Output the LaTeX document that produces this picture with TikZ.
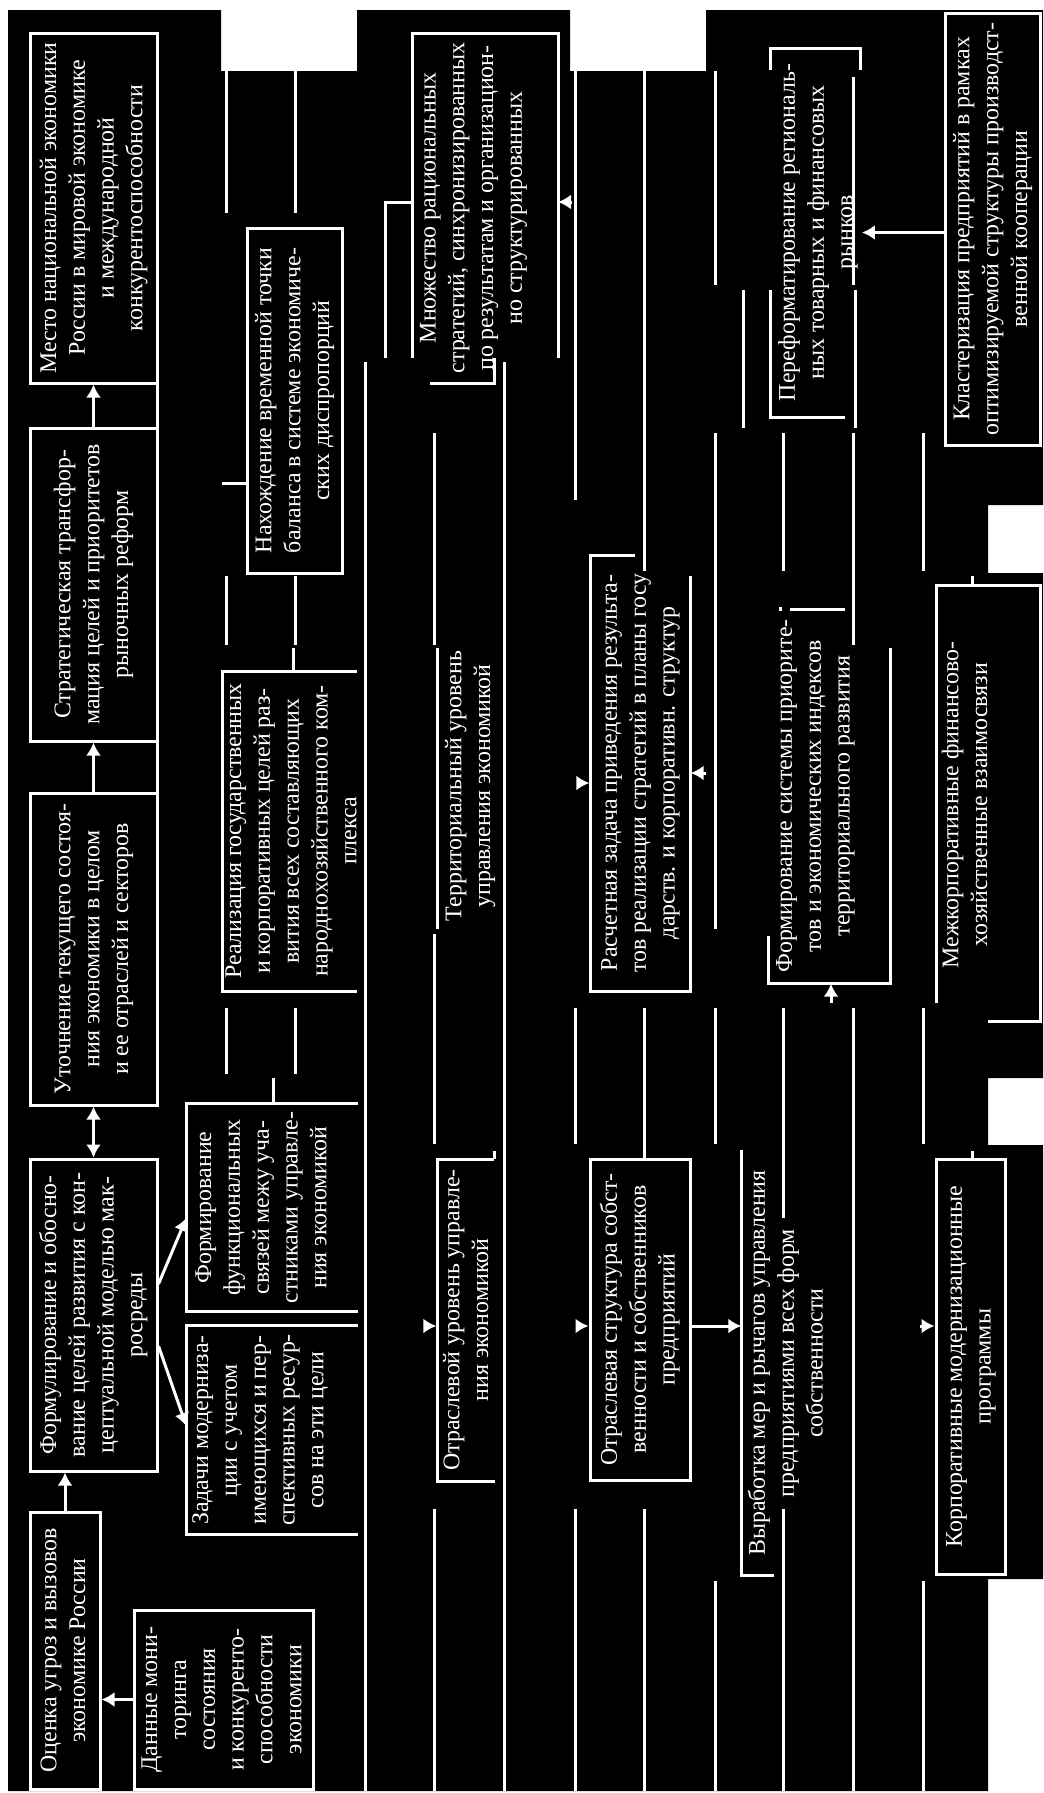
\documentclass[tikz,border=0pt]{standalone}
\usepackage{fontspec}
\setmainfont{Liberation Serif}
\usepackage{graphicx}
\usetikzlibrary{arrows.meta}

\newcommand{\vtext}[1]{\rotatebox{90}{\begin{tabular}{@{}c@{}}#1\end{tabular}}}
\tikzset{
  box/.style={draw=white,line width=0.3mm,inner sep=0pt,text=white,
    font=\fontsize{6.8pt}{8.2pt}\selectfont},
  lbl/.style={inner sep=0pt,text=white,font=\fontsize{6.8pt}{8.2pt}\selectfont},
  wire/.style={draw=white,line width=0.3mm},
}

\begin{document}
\begin{tikzpicture}[x=0.1mm,y=-0.1mm,>={Latex[length=1.3mm,width=1.5mm]}]
\useasboundingbox (0,0) rectangle (1043,1793);
\fill[black] (8,71) -- (8,10) -- (221,10) -- (221,71) -- (357,71) -- (357,10)
  -- (570,10) -- (570,71) -- (706,71) -- (706,10) -- (1043,10) -- (1043,505)
  -- (988,505) -- (988,573) -- (1043,573) -- (1043,1078) -- (988,1078)
  -- (988,1145) -- (1043,1145) -- (1043,1579) -- (988,1579) -- (988,1791)
  -- (8,1791) -- cycle;

% left chain
\node (mesto) at (93.5,208) [box,minimum width=12.7mm,minimum height=35mm]
  {\vtext{Место национальной экономики\\России в мировой экономике\\и международной\\конкурентоспособности}};
\node (strat) at (93.5,584.5) [box,minimum width=12.7mm,minimum height=31.3mm]
  {\vtext{Стратегическая трансфор-\\мация целей и приоритетов\\рыночных реформ}};
\node (utoch) at (93.5,949) [box,minimum width=12.7mm,minimum height=31.2mm]
  {\vtext{Уточнение текущего состоя-\\ния экономики в целом\\и ее отраслей и секторов}};
\node (formul) at (93.5,1315) [box,minimum width=12.7mm,minimum height=31.2mm]
  {\vtext{Формулирование и обосно-\\вание целей развития с кон-\\цептуальной моделью мак-\\росреды}};
\node (ocenka) at (65,1650.5) [box,minimum width=7mm,minimum height=27.7mm]
  {\vtext{Оценка угроз и вызовов\\экономике России}};
\node (dannye) at (223.5,1699.5) [box,minimum width=17.9mm,minimum height=17.9mm]
  {\vtext{Данные мони-\\торинга\\состояния\\и конкуренто-\\способности\\экономики}};

% second row
\node (zadachi) at (260,1430) [lbl,minimum width=14.6mm,minimum height=20.8mm]
  {\vtext{Задачи модерниза-\\ции с учетом\\имеющихся и пер-\\спективных ресур-\\сов на эти цели}};
\node (formsv) at (263,1207.5) [lbl,minimum width=15.2mm,minimum height=20.7mm]
  {\vtext{Формирование\\функциональных\\связей межу уча-\\стниками управле-\\ния экономикой}};
\node (realiz) at (293,831) [lbl,minimum width=14.2mm,minimum height=32mm]
  {\vtext{Реализация государственных\\и корпоративных целей раз-\\вития всех составляющих\\народнохозяйственного ком-\\плекса}};
\node (nahozh) at (294.5,400.5) [box,minimum width=9.5mm,minimum height=34.5mm]
  {\vtext{Нахождение временной точки\\баланса в системе экономиче-\\ских диспропорций}};

% third row
\node (mnozh) at (473,208) [lbl]
  {\vtext{Множество рациональных\\стратегий, синхронизированных\\по результатам и организацион-\\но структурированных}};
\node (terr) at (470,786) [lbl]
  {\vtext{Территориальный уровень\\управления экономикой}};
\node (otrasl) at (468,1320) [lbl,minimum width=6.2mm,minimum height=32.2mm]
  {\vtext{Отраслевой уровень управле-\\ния экономикой}};

% fourth row
\node (raschet) at (640,773) [lbl,minimum width=10mm,minimum height=43.6mm]
  {\vtext{Расчетная задача приведения результа-\\тов реализации стратегий в планы госу\\дарств. и корпоративн. структур}};
\node (struct) at (640,1319.5) [box,minimum width=10mm,minimum height=32.1mm]
  {\vtext{Отраслевая структура собст-\\венности и собственников\\предприятий}};

% fifth row
\node (pereform) at (818,232.5) [lbl,minimum width=8.4mm,minimum height=36.9mm]
  {\vtext{Переформатирование региональ-\\ных товарных и финансовых\\рынков}};
\node (formsys) at (815,796) [lbl,minimum width=9mm,minimum height=37.4mm]
  {\vtext{Формирование системы приорите-\\тов и экономических индексов\\территориального развития}};
\node (vyrab) at (788,1363) [lbl,minimum width=9.2mm,minimum height=42.4mm]
  {\vtext{Выработка мер и рычагов управления\\предприятиями всех форм\\собственности}};

% sixth row
\node (klast) at (992.5,229) [box,minimum width=9.5mm,minimum height=43.2mm]
  {\vtext{Кластеризация предприятий в рамках\\оптимизируемой структуры производст-\\венной кооперации}};
\node (mezhk) at (967,805) [lbl]
  {\vtext{Межкорпоративные финансово-\\хозяйственные взаимосвязи}};
\node (korp) at (970.5,1366.5) [box,minimum width=6.9mm,minimum height=41.5mm]
  {\vtext{Корпоративные модернизационные\\программы}};

% open frames
\draw[wire] ([xshift=2.4mm]zadachi.north east) -- (zadachi.north west)
  -- (zadachi.south west) -- ([xshift=2.4mm]zadachi.south east);
\draw[wire] ([xshift=1.8mm]formsv.north east) -- (formsv.north west)
  -- (formsv.south west) -- ([xshift=1.8mm]formsv.south east);
\draw[wire] (357,671) -- (222,671) -- (222,991) -- (357,991);
\draw[wire] (222,483) -- (nahozh.west |- 0,483);
\draw[wire] (412,358) -- (412,33) -- (558,33) -- (558,358);
\draw[wire] (494,358) -- (494,383) -- (430,383);
\draw[wire] (385,358) -- (385,202) -- (412,202);
\draw[wire] (494,1159) -- (437,1159) -- (437,1481) -- (495,1481);
\draw[wire] (635,555) -- (590,555) -- (590,991) -- (690,991) -- (690,576);
\draw[wire] (770,70) -- (770,48) -- (860,48) -- (860,70);
\draw[wire] (853,77) -- (853,285);
\draw[wire] (770,290) -- (770,417) -- (845,417);
\draw[wire] (855,290) -- (855,428);
\draw[wire] (790,609) -- (845,609);
\draw[wire] (890,648) -- (890,983) -- (768,983) -- (768,936);
\draw[wire] (vyrab.north west) -- (vyrab.south west) -- ++(3.3mm,0);
\draw[wire] (936,1003) -- (936,585) -- (1040,585) -- (1040,1021) -- (988,1021);

% broken grid lines
\foreach \x/\ya/\yb in {157/383/428,157/741/793,
  226/71/213,295/71/213,226/576/645,295/576/645,293/648/671,
  226/1008/1074,295/1008/1074,273/1078/1104,
  365/362/1791,504/362/1791,
  434/433/645,437/648/929,434/934/1144,494/1151/1159,434/1509/1791,
  575/71/500,644/71/571,575/1008/1144,644/1008/1159,575/1509/1791,644/1509/1791,
  715/71/285,715/433/929,715/1008/1144,715/1581/1791,743/290/428,
  783/433/571,783/1008/1218,783/1509/1791,853/433/645,853/1008/1791,
  923/433/571,923/1008/1144,923/1581/1791,
  972/576/585,972/1151/1159,780/607/611}
  \draw[wire] (\x,\ya) -- (\x,\yb);

% arrows
\draw[wire,->] (strat.north) -- (mesto.south);
\draw[wire,->] (utoch.north) -- (strat.south);
\draw[wire,<->] (formul.north) -- (utoch.south);
\draw[wire,->] (ocenka.north) -- (ocenka.north |- formul.south);
\draw[wire,->] (dannye.west) -- (dannye.west -| ocenka.east);
\draw[wire,->] (formul.east |- 0,1284) -- (formsv.west |- 0,1218);
\draw[wire,->] (formul.east |- 0,1346) -- (zadachi.west |- 0,1426);
\draw[wire,->] (klast.west |- pereform.east) -- (pereform.east);
\coordinate (r2) at (0,1326);
\coordinate (fs) at (831,1003);
\coordinate (o0) at (424,1326);
\coordinate (s0) at (577,1326);
\coordinate (k0) at (920,1326);
\coordinate (c0) at (577,783);
\coordinate (c1) at (706,773);
\coordinate (m0) at (572,202);
\draw[wire,->] (struct.east |- r2) -- (vyrab.west |- r2);
\draw[wire,->] (fs) -- (fs |- formsys.south);
\draw[wire,->] (o0) -- (o0 -| otrasl.west);
\draw[wire,->] (s0) -- (s0 -| struct.west);
\draw[wire,->] (k0) -- (k0 -| korp.west);
\draw[wire,->] (c0) -- (c0 -| raschet.west);
\draw[wire,->] (c1) -- (c1 -| raschet.east);
\draw[wire,->] (m0) -- (558,202);
\end{tikzpicture}
\end{document}
